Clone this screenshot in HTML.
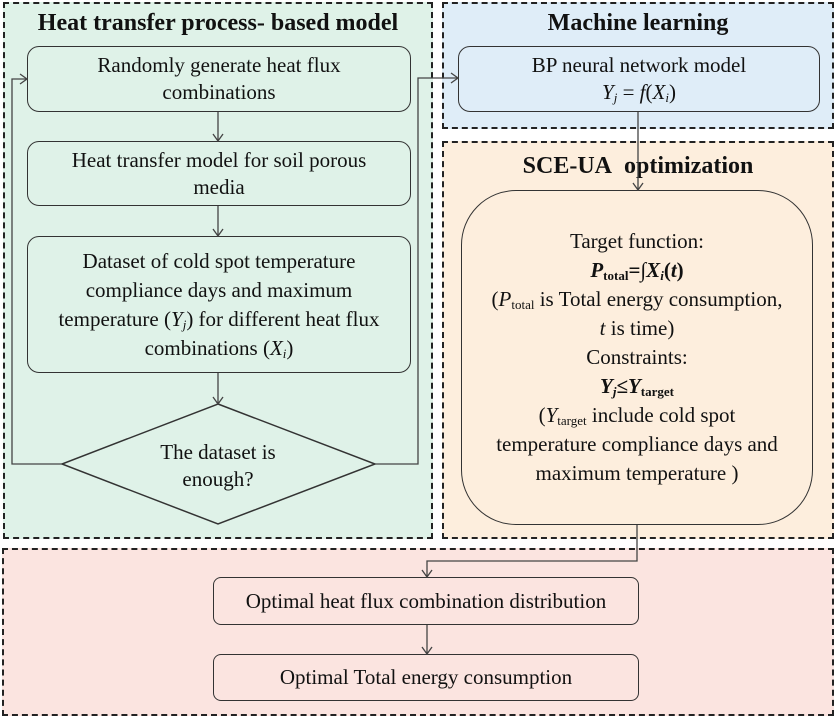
<!DOCTYPE html>
<html><head><meta charset="utf-8"><style>
body{margin:0;width:837px;height:718px;background:#fff;position:relative;overflow:hidden;font-family:"Liberation Serif",serif;color:#111}
.p{position:absolute;border:2px dashed #222;box-sizing:border-box}
.b{position:absolute;border:1.5px solid #333;box-sizing:border-box;border-radius:12px;display:flex;align-items:center;justify-content:center;text-align:center;font-size:21px;line-height:27px}
.b>div{width:100%}
.t{position:absolute;font-weight:bold;font-size:24px;text-align:center}
svg{position:absolute;left:0;top:0}
sub{font-size:13px;vertical-align:-3px;line-height:0}
</style></head><body>
<div class="p" style="left:3px;top:2px;width:430px;height:537px;background:#dff2e8"></div>
<div class="p" style="left:442px;top:2px;width:392px;height:127px;background:#dfedf8"></div>
<div class="p" style="left:442px;top:141px;width:392px;height:398px;background:#fdeedd"></div>
<div class="p" style="left:2px;top:548px;width:832px;height:168px;background:#fbe4e0"></div>
<div class="t" style="left:3px;top:10px;width:430px">Heat transfer process- based model</div>
<div class="t" style="left:442px;top:10px;width:392px">Machine learning</div>
<div class="t" style="left:442px;top:153px;width:392px">SCE-UA&nbsp; optimization</div>
<div class="b" style="left:27px;top:46px;width:384px;height:66px;background:#dff2e8"><div>Randomly generate heat flux<br>combinations</div></div>
<div class="b" style="left:27px;top:141px;width:384px;height:65px;background:#dff2e8"><div>Heat transfer model for soil porous<br>media</div></div>
<div class="b" style="left:27px;top:236px;width:384px;height:137px;background:#dff2e8;line-height:29px"><div>Dataset of cold spot temperature<br>compliance days and maximum<br>temperature (<i>Y<sub>j</sub></i>) for different heat flux<br>combinations (<i>X<sub>i</sub></i>)</div></div>
<div class="b" style="left:458px;top:46px;width:362px;height:66px;background:#dfedf8"><div>BP neural network model<br><i>Y<sub>j</sub></i> = <i>f</i>(<i>X<sub>i</sub></i>)</div></div>
<div class="b" style="left:461px;top:190px;width:352px;height:335px;background:#fdeedd;border-radius:55px;line-height:29px"><div>Target function:<br><b><i>P</i><sub>total</sub>=∫<i>X<sub>i</sub></i>(<i>t</i>)</b><br>(<i>P</i><sub>total</sub> is Total energy consumption,<br><i>t</i> is time)<br>Constraints:<br><b><i>Y<sub>j</sub></i>≤<i>Y</i><sub>target</sub></b><br>(<i>Y</i><sub>target</sub> include cold spot<br>temperature compliance days and<br>maximum temperature )</div></div>
<div class="b" style="left:213px;top:577px;width:426px;height:48px;background:#fbe4e0;border-radius:8px"><div>Optimal heat flux combination distribution</div></div>
<div class="b" style="left:213px;top:654px;width:426px;height:47px;background:#fbe4e0;border-radius:8px"><div>Optimal Total energy consumption</div></div>
<svg width="837" height="718" fill="none" stroke="#444" stroke-width="1.3">
<polygon points="218,404 375,464 218,524 62,464" fill="#dff2e8" stroke="#333" stroke-width="1.5"/>
<text x="218" y="459" font-size="21" text-anchor="middle" fill="#111" stroke="none" font-family="Liberation Serif">The dataset is</text>
<text x="218" y="486" font-size="21" text-anchor="middle" fill="#111" stroke="none" font-family="Liberation Serif">enough?</text>
<path d="M218,112V141M213,134l5,7l5,-7M218,206V236M213,229l5,7l5,-7M218,373V404M213,397l5,7l5,-7"/>
<path d="M62,464H12V79H27M20,74l7,5l-7,5"/>
<path d="M375,464H418V78H458M451,73l7,5l-7,5"/>
<path d="M638,112V190M633,183l5,7l5,-7"/>
<path d="M637,525V561H427V577M422,570l5,7l5,-7M427,625V654M422,647l5,7l5,-7"/>
</svg>
</body></html>
